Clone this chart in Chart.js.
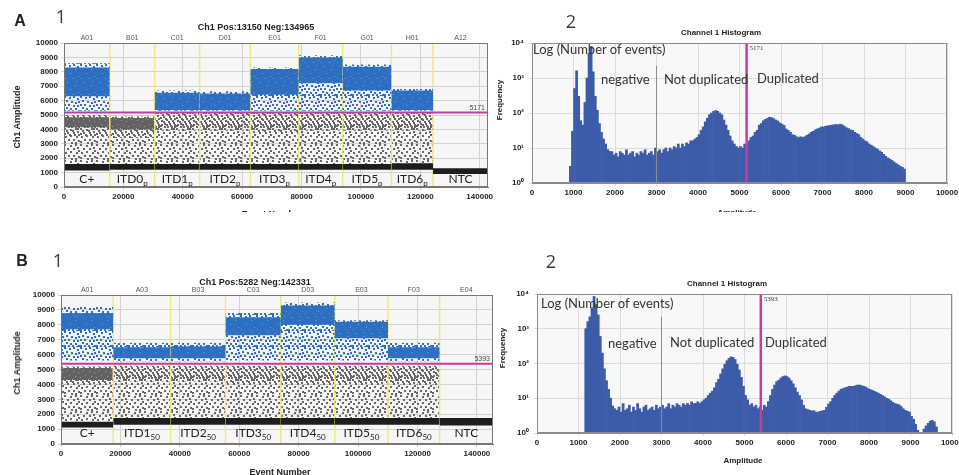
<!DOCTYPE html>
<html>
<head>
<meta charset="utf-8">
<script src="https://cdn.jsdelivr.net/npm/chart.js@4.4.1/dist/chart.umd.min.js"></script>
<style>
  body { margin: 0; background: #fff; width: 959px; height: 475px; overflow: hidden; position: relative; font-family: "Liberation Sans", Arial, sans-serif; }
  canvas { position: absolute; }
  .panel { position: absolute; left: 0; width: 959px; overflow: hidden; }
  .t { position: absolute; white-space: nowrap; color: #222; line-height: 1; }
  .c { transform: translate(-50%, -50%); }
  .l { transform: translate(0, -50%); }
  .r { transform: translate(-50%, -50%) rotate(-90deg); }
  .note { font-family: Lato, "Open Sans", sans-serif; font-size: 13px; color: #333; }
</style>
</head>
<body>
<div class="panel" style="top:0;height:212px">
  <canvas id="scatterA" style="left:0;top:0" width="500" height="213"></canvas>
  <canvas id="histA" style="left:494px;top:0" width="465" height="213"></canvas>
  <div class="t c" style="left:20px;top:21px;font:bold 16px 'Liberation Sans'">A</div>
  <div class="t c" style="left:61px;top:16px;font:18px 'Open Sans';color:#3a3a3a">1</div>
  <div class="t c" style="left:571px;top:21px;font:18px 'Open Sans';color:#3a3a3a">2</div>
  <div class="t c" style="left:256px;top:27px;font:bold 9px 'Liberation Sans'">Ch1 Pos:13150 Neg:134965</div>
  <div class="t r" style="left:17px;top:117px;font:bold 9px 'Liberation Sans'">Ch1 Amplitude</div>
  <div class="t c" style="left:272px;top:214px;font:bold 9px 'Liberation Sans'">Event Number</div>
  <div class="t c" style="left:721px;top:32px;font:bold 8px 'Liberation Sans'">Channel 1 Histogram</div>
  <div class="t r" style="left:499px;top:100px;font:bold 8px 'Liberation Sans'">Frequency</div>
  <div class="t c" style="left:737px;top:212px;font:bold 8px 'Liberation Sans'">Amplitude</div>
  <div class="t l note" style="left:533px;top:49px">Log (Number of events)</div>
  <div class="t l note" style="left:601px;top:79px">negative</div>
  <div class="t l note" style="left:664px;top:79px">Not duplicated</div>
  <div class="t l note" style="left:757px;top:78px">Duplicated</div>
</div>
<div class="panel" style="top:235px;height:240px">
  <canvas id="scatterB" style="left:0;top:0" width="500" height="240"></canvas>
  <canvas id="histB" style="left:494px;top:0" width="465" height="240"></canvas>
  <div class="t c" style="left:22px;top:26px;font:bold 16px 'Liberation Sans'">B</div>
  <div class="t c" style="left:58px;top:25px;font:18px 'Open Sans';color:#3a3a3a">1</div>
  <div class="t c" style="left:551px;top:26px;font:18px 'Open Sans';color:#3a3a3a">2</div>
  <div class="t c" style="left:255px;top:47px;font:bold 9px 'Liberation Sans'">Ch1 Pos:5282 Neg:142331</div>
  <div class="t r" style="left:17px;top:128px;font:bold 9px 'Liberation Sans'">Ch1 Amplitude</div>
  <div class="t c" style="left:280px;top:237px;font:bold 9px 'Liberation Sans'">Event Number</div>
  <div class="t c" style="left:727px;top:48px;font:bold 8px 'Liberation Sans'">Channel 1 Histogram</div>
  <div class="t r" style="left:502px;top:113px;font:bold 8px 'Liberation Sans'">Frequency</div>
  <div class="t c" style="left:743px;top:225px;font:bold 8px 'Liberation Sans'">Amplitude</div>
  <div class="t l note" style="left:541px;top:68px">Log (Number of events)</div>
  <div class="t l note" style="left:608px;top:108px">negative</div>
  <div class="t l note" style="left:670px;top:107px">Not duplicated</div>
  <div class="t l note" style="left:765px;top:107px">Duplicated</div>
</div>
<script>
// ---- panel A1: droplet amplitude bands per well ----
const wellsA = ["A01", "B01", "C01", "D01", "E01", "F01", "G01", "H01", "A12"];
const samplesA = ["C+", "ITD0", "ITD1", "ITD2", "ITD3", "ITD4", "ITD5", "ITD6", "NTC"];
const subsA = ["", "p", "p", "p", "p", "p", "p", "p", ""];
const boundsA = [0, 15400, 30550, 45700, 62780, 79050, 93870, 110270, 124280, 142800];
const thresholdA = 5171;
const blueDenseA = [[6300, 8300], null, [5350, 6550], [5350, 6500], [6400, 8200], [7200, 9000], [6700, 8350], [5350, 6700], null];
const blueSparseA = [[5300, 8600], null, [5300, 6700], [5300, 6650], [5300, 8300], [5300, 9150], [5300, 8500], [5300, 6800], null];
const greyCoreA = [[4150, 4850], [4000, 4800], null, null, null, null, null, null, null];
const greyUpperA = [[3500, 5000], [3400, 4900], [3900, 5150], [3900, 5150], [3800, 5150], [3900, 5150], [3900, 5150], [3900, 5150], null];
const greySparseA = [[1600, 5000], [1600, 4900], [1600, 5150], [1600, 5150], [1600, 5150], [1600, 5150], [1600, 5150], [1600, 5150], null];
const blackA = [[1150, 1600], [1200, 1600], [1200, 1600], [1200, 1600], [1200, 1600], [1200, 1600], [1200, 1600], [1200, 1650], [900, 1300]];

// ---- panel B1 ----
const wellsB = ["A01", "A03", "B03", "C03", "D03", "E03", "F03", "E04"];
const samplesB = ["C+", "ITD1", "ITD2", "ITD3", "ITD4", "ITD5", "ITD6", "NTC"];
const subsB = ["", "50", "50", "50", "50", "50", "50", ""];
const boundsB = [0, 17590, 36890, 55380, 73980, 92130, 110060, 127440, 145400];
const thresholdB = 5393;
const blueDenseB = [[7700, 8800], [5750, 6500], [5750, 6550], [7300, 8500], [8000, 9300], [7100, 8200], [5750, 6500], null];
const blueSparseB = [[5600, 9200], [5550, 6800], [5550, 6800], [5600, 8800], [5600, 9500], [5600, 8300], [5550, 6800], null];
const greyCoreB = [[4300, 5100], null, null, null, null, null, null, null];
const greyUpperB = [[4000, 5200], [4200, 5250], [4200, 5250], [4100, 5250], [4000, 5250], [4100, 5250], [4000, 5250], null];
const greySparseB = [[1500, 5200], [1750, 5250], [1750, 5250], [1750, 5250], [1750, 5250], [1750, 5250], [1750, 5250], null];
const blackB = [[1100, 1500], [1300, 1750], [1300, 1750], [1300, 1750], [1300, 1750], [1300, 1750], [1300, 1750], [1250, 1750]];

const eventTicks = [0, 20000, 40000, 60000, 80000, 100000, 120000, 140000];

// ---- histograms (bin width 50, counts per bin) ----
const BIN = 50;
const histStartA = 900;
const histCountsA = [
  3, 30, 500, 1600, 300, 60, 45, 200, 1000, 5000, 8000, 1500, 300, 120, 50, 28, 18, 13, 9, 8,
  7.9, 6.3, 7.1, 5.6, 7.9, 7.1, 6.3, 8.9, 6.3, 7.1, 7.9, 5.6, 7.1, 6.3, 7.9, 7.1, 8.9, 6.3, 7.1, 7.9, 6.3, 10,
  7.9, 8.9, 7.1, 8.9, 10, 7.9, 10, 8.9, 11, 10, 13, 10, 13, 11, 14, 13, 16, 16, 18, 20,
  24, 32, 40, 56, 71, 89, 100, 112, 117, 112, 100, 89, 63, 45, 32, 22, 16, 13, 11, 10,
  11, 10, 13, 11, 16, 20, 22, 28, 32, 45, 50, 60, 66, 71, 76, 74, 69, 63, 59, 52,
  48, 44, 35, 32, 28, 24, 23, 21, 20, 21, 20, 21, 23, 25, 28, 30, 33, 35, 37, 40,
  40, 42, 43, 44, 45, 46, 47, 46, 48, 46, 42, 38, 36, 33, 32, 28, 26, 24, 20, 18,
  16, 15, 13, 12, 11, 10, 9.3, 8.3, 7.6, 6.6, 5.8, 5.2, 4.8, 4.4, 4, 3.6, 3.3, 3, 2.8, 2.5
];
const histStartB = 1150;
const histCountsB = [
  1000, 1600, 2200, 4000, 8500, 5000, 2500, 600, 200, 70, 32, 18, 10, 6, 5,
  4.5, 5.6, 4, 7, 4.5, 5, 6.3, 4, 5.6, 4.5, 7, 5, 4, 5.6, 6.3, 4.5, 5, 5.6, 4.5, 6.3, 5, 5.6,
  6.3, 5, 5.6, 7, 5, 6.3, 5.6, 7, 6.3, 5.6, 7, 6.3, 7.1, 6.3, 7.9, 7, 7.1, 7.9, 7.1, 8,
  9, 10, 12, 14, 16, 20, 28, 35, 50, 70, 95, 120, 140, 155, 150, 130, 95, 65, 40, 22,
  12, 9, 6.3, 7, 5.6, 6.3, 5, 5.6, 4.5, 6.3, 5.6, 8, 12, 18, 24, 30, 33, 38, 42, 44,
  42, 38, 32, 26, 20, 15, 12, 9, 6.3, 5, 4.7, 4.5, 4.3, 4.4, 4, 4, 4.2, 4.3, 4.5, 5.5,
  6.8, 8, 10, 12, 14, 16, 18, 19, 20, 21, 22, 22, 22, 23, 24, 24, 23, 22, 21, 19,
  18, 17, 16, 15, 14, 13, 12, 11, 10, 9.5, 8.5, 7.6, 7, 6.8, 6.5, 5.8, 5, 4.5, 4.2, 4,
  3, 2.5, 1.8, 1.2, 1, 1, 1.3, 1.6, 1.9, 2.2, 2.3, 2.1, 1.5
];
const NEG_SPLIT = 3000;      // grey divider between negative / not duplicated
const NEG_SPLIT_TOP = 2200;
const histTicksY = [1, 10, 100, 1000, 10000];
const supLabels = { 1: "10\u2070", 10: "10\u00b9", 100: "10\u00b2", 1000: "10\u00b3", 10000: "10\u2074" };

Chart.defaults.font.family = "'Liberation Sans', Arial, sans-serif";
Chart.defaults.color = "#222";

// dotted textures so bands read like droplet clouds
function makePattern(size, bg, fg, dot, cells) {
  const c = document.createElement("canvas");
  c.width = c.height = size;
  const g = c.getContext("2d");
  if (bg) { g.fillStyle = bg; g.fillRect(0, 0, size, size); }
  g.fillStyle = fg;
  cells.forEach(p => g.fillRect(p[0], p[1], dot, dot));
  return g.createPattern(c, "repeat");
}
const PAT = {
  blueDense: makePattern(16, "#2f6fc1", "#6e9bd5", 1, [[3, 2], [11, 5], [6, 9], [14, 12], [1, 14], [9, 14], [12, 1]]),
  blueSparse: makePattern(16, null, "#2f6fc1", 2, [
    [0, 0], [5, 1], [9, 0], [13, 2], [2, 4], [7, 5], [11, 6], [14, 5], [0, 8], [4, 8], [9, 9],
    [13, 9], [2, 11], [6, 12], [11, 12], [14, 14], [0, 14], [4, 14], [8, 14], [12, 15]]),
  greyCore: makePattern(16, "#636363", "#9a9a9a", 1, [[1, 1], [6, 3], [12, 2], [3, 7], [9, 8], [14, 9], [5, 12], [11, 13], [0, 14], [8, 0], [15, 5]]),
  greyUpper: makePattern(16, null, "#666", 2, [
    [2, 2], [8, 2], [13, 0], [5, 6], [10, 6], [0, 5], [3, 9], [8, 9], [13, 10], [1, 12], [6, 12], [10, 13], [14, 14], [4, 14]]),
  greySparse: makePattern(16, null, "#686868", 2, [
    [0, 0], [6, 1], [11, 0], [3, 4], [9, 4], [13, 3], [1, 8], [6, 7], [12, 8], [4, 11], [9, 11], [14, 12], [0, 13], [7, 14], [11, 14], [14, 6]]),
  black: "#1d1d1d"
};

function bandSets(bounds, bands, fillStyle, order) {
  const out = [];
  bands.forEach((b, i) => {
    if (!b) return;
    out.push({
      data: [{ x: bounds[i], y: b[1] }, { x: bounds[i + 1], y: b[1] }],
      fill: { value: b[0] }, backgroundColor: fillStyle,
      borderWidth: 0, pointRadius: 0, order: order
    });
  });
  return out;
}

function scatterDecor(cfg) {
  return {
    id: "scatterDecor",
    beforeDraw(chart) {
      const { ctx, chartArea: a } = chart;
      ctx.save();
      ctx.fillStyle = "#f6f6f6";
      ctx.fillRect(a.left, a.top, a.width, a.height);
      ctx.restore();
    },
    afterDatasetsDraw(chart) {
      const { ctx, chartArea: a } = chart;
      const xs = chart.scales.x, ys = chart.scales.y;
      ctx.save();
      ctx.strokeStyle = "#777";
      ctx.lineWidth = 1;
      ctx.strokeRect(a.left + 0.5, a.top + 0.5, a.width - 1, a.height - 1);
      // well names above the plot
      ctx.font = "7px 'Liberation Sans'";
      ctx.fillStyle = "#555";
      ctx.textAlign = "center";
      ctx.textBaseline = "alphabetic";
      cfg.wells.forEach((w, i) => {
        const cx = (xs.getPixelForValue(cfg.bounds[i]) + xs.getPixelForValue(cfg.bounds[i + 1])) / 2;
        ctx.fillText(w, cx, a.top - 3);
      });
      // sample names at the bottom
      ctx.fillStyle = "#222";
      ctx.textAlign = "left";
      cfg.samples.forEach((s, i) => {
        const cx = (xs.getPixelForValue(cfg.bounds[i]) + xs.getPixelForValue(cfg.bounds[i + 1])) / 2;
        ctx.font = "12px Lato";
        const w1 = ctx.measureText(s).width;
        ctx.font = "8px Lato";
        const w2 = cfg.subs[i] ? ctx.measureText(cfg.subs[i]).width : 0;
        const x0 = cx - (w1 + w2) / 2;
        const by = a.bottom - cfg.labelLift;
        ctx.font = "12px Lato";
        ctx.fillText(s, x0, by);
        if (cfg.subs[i]) { ctx.font = "8px Lato"; ctx.fillText(cfg.subs[i], x0 + w1, by + 3); }
      });
      // threshold value
      ctx.font = "7px 'Liberation Sans'";
      ctx.fillStyle = "#444";
      ctx.textAlign = "right";
      ctx.fillText(String(cfg.threshold), a.right - 3, ys.getPixelForValue(cfg.threshold) - 3);
      ctx.restore();
    }
  };
}

function makeScatter(id, cfg) {
  const d = cfg.data;
  const lines = cfg.bounds.slice(1, -1).map(b => ({
    data: [{ x: b, y: 0 }, { x: b, y: 10000 }],
    borderColor: "rgba(238,232,120,0.95)", borderWidth: 1.5, pointRadius: 0, fill: false, order: 4
  }));
  const datasets = [
    {
      data: [{ x: 0, y: cfg.threshold }, { x: cfg.bounds[cfg.bounds.length - 1], y: cfg.threshold }],
      borderColor: "#c43c9e", borderWidth: 2, pointRadius: 0, fill: false, order: 0
    },
    ...bandSets(cfg.bounds, d.blueDense, PAT.blueDense, 1),
    ...bandSets(cfg.bounds, d.blueSparse, PAT.blueSparse, 2),
    ...bandSets(cfg.bounds, d.black, PAT.black, 3),
    ...lines,
    ...bandSets(cfg.bounds, d.greyCore, PAT.greyCore, 5),
    ...bandSets(cfg.bounds, d.greyUpper, PAT.greyUpper, 6),
    ...bandSets(cfg.bounds, d.greySparse, PAT.greySparse, 7)
  ];
  new Chart(document.getElementById(id), {
    type: "line",
    data: { datasets },
    options: {
      responsive: false, animation: false, devicePixelRatio: 1,
      layout: { padding: cfg.pad },
      plugins: { legend: { display: false }, tooltip: { enabled: false } },
      scales: {
        x: {
          type: "linear", min: 0, max: cfg.bounds[cfg.bounds.length - 1], offset: false,
          afterBuildTicks: s => { s.ticks = eventTicks.map(v => ({ value: v })); },
          ticks: { maxRotation: 0, autoSkip: false, padding: 2, font: { size: 8, weight: "bold" }, callback: v => String(v) },
          grid: { color: "#d2d2d2", tickLength: 3 },
          border: { color: "#777" },
          afterFit: s => { s.height = cfg.xh; s.paddingLeft = 0; s.paddingRight = 0; }
        },
        y: {
          min: 0, max: 10000,
          ticks: { stepSize: 1000, padding: 3, font: { size: 8, weight: "bold" }, callback: v => String(v) },
          grid: { color: "#d2d2d2", tickLength: 3 },
          border: { color: "#777" },
          afterFit: s => { s.width = cfg.yw; s.paddingTop = 0; s.paddingBottom = 0; }
        }
      }
    },
    plugins: [scatterDecor(cfg)]
  });
}

function histDecor(threshold) {
  return {
    id: "histDecor",
    beforeDraw(chart) {
      const { ctx, chartArea: a } = chart;
      ctx.save();
      ctx.fillStyle = "#f8f8f8";
      ctx.fillRect(a.left, a.top, a.width, a.height);
      ctx.restore();
    },
    afterDatasetsDraw(chart) {
      const { ctx, chartArea: a } = chart;
      const xs = chart.scales.x;
      ctx.save();
      ctx.strokeStyle = "#8a8a8a";
      ctx.lineWidth = 1;
      ctx.strokeRect(a.left + 0.5, a.top + 0.5, a.width - 1, a.height - 1);
      ctx.font = "7px 'Liberation Serif'";
      ctx.fillStyle = "#444";
      ctx.textAlign = "left";
      ctx.fillText(String(threshold), xs.getPixelForValue(threshold) + 3, a.top + 7);
      ctx.restore();
    }
  };
}

function makeHist(id, start, counts, threshold, layout) {
  const bins = counts.map((c, i) => ({ x: start + i * BIN + BIN / 2, y: c }));
  new Chart(document.getElementById(id), {
    type: "bar",
    data: {
      datasets: [
        { type: "line", data: [{ x: threshold, y: 1 }, { x: threshold, y: 10000 }], borderColor: "#c43c9e", borderWidth: 2.5, pointRadius: 0, order: 0 },
        { type: "line", data: [{ x: NEG_SPLIT, y: 1 }, { x: NEG_SPLIT, y: NEG_SPLIT_TOP }], borderColor: "#8c8c8c", borderWidth: 1, pointRadius: 0, order: 1 },
        { type: "bar", data: bins, backgroundColor: "#3c5ca9", barPercentage: 1, categoryPercentage: 1, borderWidth: 0, order: 2 }
      ]
    },
    options: {
      responsive: false, animation: false, devicePixelRatio: 1,
      layout: { padding: layout.pad },
      plugins: { legend: { display: false }, tooltip: { enabled: false } },
      scales: {
        x: {
          type: "linear", min: 0, max: 10000, offset: false,
          ticks: { stepSize: 1000, maxRotation: 0, autoSkip: false, padding: 2, font: { size: 8, weight: "bold" }, callback: v => String(v) },
          grid: { color: "#dcdcdc", tickLength: 3, offset: false },
          border: { color: "#8a8a8a" },
          afterFit: s => { s.height = layout.xh; s.paddingLeft = 0; s.paddingRight = 0; }
        },
        y: {
          type: "logarithmic", min: 1, max: 10000,
          afterBuildTicks: s => { s.ticks = histTicksY.map(v => ({ value: v, major: true })); },
          ticks: { padding: 5, font: { size: 8, weight: "bold" }, callback: v => supLabels[v] || "" },
          grid: { color: "#dcdcdc", tickLength: 3 },
          border: { color: "#8a8a8a" },
          afterFit: s => { s.width = layout.yw; s.paddingTop = 0; s.paddingBottom = 0; }
        }
      }
    },
    plugins: [histDecor(threshold)]
  });
}

makeScatter("scatterA", {
  wells: wellsA, samples: samplesA, subs: subsA, bounds: boundsA, threshold: thresholdA,
  data: { blueDense: blueDenseA, blueSparse: blueSparseA, greyCore: greyCoreA, greyUpper: greyUpperA, greySparse: greySparseA, black: blackA },
  pad: { left: 0, top: 43, right: 12, bottom: 0 }, xh: 26, yw: 64, labelLift: 4
});
makeScatter("scatterB", {
  wells: wellsB, samples: samplesB, subs: subsB, bounds: boundsB, threshold: thresholdB,
  data: { blueDense: blueDenseB, blueSparse: blueSparseB, greyCore: greyCoreB, greyUpper: greyUpperB, greySparse: greySparseB, black: blackB },
  pad: { left: 0, top: 60, right: 7, bottom: 0 }, xh: 31, yw: 61, labelLift: 7
});
makeHist("histA", histStartA, histCountsA, thresholdA, { pad: { left: 0, top: 43, right: 12, bottom: 0 }, xh: 30, yw: 38 });
makeHist("histB", histStartB, histCountsB, thresholdB, { pad: { left: 0, top: 59, right: 7, bottom: 0 }, xh: 42, yw: 43 });
</script>
</body>
</html>
